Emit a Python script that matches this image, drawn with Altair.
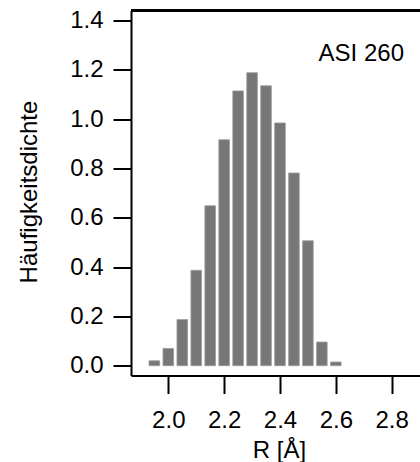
import altair as alt
import pandas as pd

# Data
r_centers = [1.95, 2.00, 2.05, 2.10, 2.15, 2.20, 2.25, 2.30, 2.35, 2.40, 2.45, 2.50, 2.55, 2.60]
density = [0.020, 0.070, 0.187, 0.387, 0.649, 0.917, 1.115, 1.189, 1.136, 0.985, 0.782, 0.507, 0.096, 0.015]
x_ticks = [2.0, 2.2, 2.4, 2.6, 2.8]
y_ticks = [0.0, 0.2, 0.4, 0.6, 0.8, 1.0, 1.2, 1.4]
label_text = ["ASI 260"]

df = pd.DataFrame({"R": r_centers, "d": density})

FONT = "Liberation Sans"
FS = 24
W, H = 289, 365

xscale = alt.Scale(domain=[1.8664, 2.9014], nice=False, zero=False)
yscale = alt.Scale(domain=[-0.0398, 1.4414], nice=False, zero=False)

bars = alt.Chart(df).transform_calculate(
    x1="datum.R - 0.019", x2="datum.R + 0.019", y0="0"
).mark_rect(fill="#777777", stroke="#9a9a9a", strokeWidth=0.8).encode(
    x=alt.X("x1:Q", scale=xscale,
            axis=alt.Axis(values=x_ticks, format=".1f", title="R [Å]",
                          titleX=148, titleY=81.5, titleBaseline="alphabetic",
                          titleAlign="center", labelPadding=14.5)),
    x2="x2:Q",
    y=alt.Y("d:Q", scale=yscale,
            axis=alt.Axis(values=y_ticks, format=".1f", title="Häufigkeitsdichte",
                          titleX=-95, titleY=181, titleBaseline="alphabetic",
                          titleAngle=-90, titleAlign="center", labelPadding=10)),
    y2="y0:Q",
)

top_line = alt.Chart(df).mark_rule(color="black", strokeWidth=2).encode(
    x=alt.value(0), x2=alt.value(W), y=alt.value(0)
)

label = alt.Chart(pd.DataFrame({"t": label_text})).mark_text(
    align="right", baseline="alphabetic", fontSize=FS, font=FONT, color="black"
).encode(text="t:N", x=alt.value(273), y=alt.value(50))

chart = alt.layer(bars, top_line, label).properties(
    width=W, height=H,
    autosize=alt.AutoSizeParams(type="none"),
    padding={"left": 131, "top": 10.5, "right": 0, "bottom": 86.5},
).configure_view(stroke=None).configure_axis(
    grid=False, domainColor="black", domainWidth=2, tickColor="black",
    tickWidth=2, tickSize=18, labelFont=FONT, labelFontSize=FS,
    labelColor="black", titleFont=FONT, titleFontSize=FS, titleColor="black",
    titleFontWeight="normal", labelFontWeight="normal",
)

chart.save("out.html", embed_options={"renderer": "svg", "actions": False})
